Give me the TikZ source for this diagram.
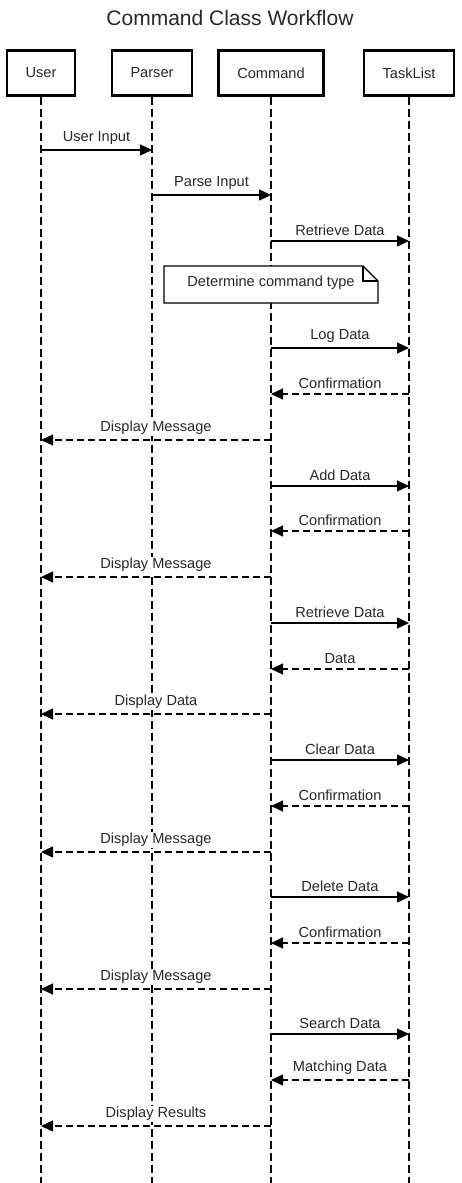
\documentclass[tikz,border=0pt]{standalone}
\usepackage{fontspec}
\setmainfont{Liberation Sans}
\usetikzlibrary{arrows.meta}
\definecolor{inkgray}{RGB}{40,40,40}
\newcommand\lbl{\fontsize{14.6}{17}\selectfont}

\begin{document}
\begin{tikzpicture}[x=1pt,y=1pt,>={Triangle[length=12pt,width=11pt]},
                    every node/.style={text=inkgray,font=\lbl},
                    semithick]

  \tikzset{head/.style={draw,line width=2.4pt,minimum height=45pt,inner sep=0pt},
           life/.style={line width=1.3pt,dash pattern=on 8pt off 4pt},
           call/.style={->,line width=1.2pt},
           reply/.style={->,line width=1.2pt,dash pattern=on 7pt off 4pt},
           msg/.style={midway,above,fill=white,inner sep=1pt,yshift=3.5pt}}

  \useasboundingbox (0,0) rectangle (461,-1183);

  \node[font=\fontsize{21}{24}\selectfont] (title) at (230,-18) {Command Class Workflow};

  \node[head,minimum width=68pt]  (user)     at (41,-73)  {User};
  \node[head,minimum width=80pt]  (parser)   at (152,-73) {Parser};
  \node[head,minimum width=105pt] (command)  at (271,-73) {Command};
  \node[head,minimum width=90pt]  (tasklist) at (409,-73) {TaskList};

  \coordinate (userEnd)     at (user     |- 0,-1183);
  \coordinate (parserEnd)   at (parser   |- 0,-1183);
  \coordinate (commandEnd)  at (command  |- 0,-1183);
  \coordinate (tasklistEnd) at (tasklist |- 0,-1183);

  \draw[life] (user.south)     -- (userEnd);
  \draw[life] (parser.south)   -- (parserEnd);
  \draw[life] (command.south)  -- (commandEnd);
  \draw[life] (tasklist.south) -- (tasklistEnd);

  % note
  \draw[line width=1.2pt,fill=white] (164,-266) -- (363,-266) -- (378,-281) -- (378,-303) -- (164,-303) -- cycle;
  \draw[line width=1.2pt] (363,-266) -- (363,-281) -- (378,-281);
  \node (note) at (271,-283) {Determine command type};

  \path
  (user    |- 0,-150)  edge[call]  node[msg] {User Input}      (parser   |- 0,-150)
  (parser  |- 0,-195)  edge[call]  node[msg] {Parse Input}     (command  |- 0,-195)
  (command |- 0,-241)  edge[call]  node[msg] {Retrieve Data}   (tasklist |- 0,-241)

  (command  |- 0,-348) edge[call]  node[msg] {Log Data}        (tasklist |- 0,-348)
  (tasklist |- 0,-394) edge[reply] node[msg] {Confirmation}    (command  |- 0,-394)
  (command  |- 0,-440) edge[reply] node[msg] {Display Message} (user     |- 0,-440)

  (command  |- 0,-486) edge[call]  node[msg] {Add Data}        (tasklist |- 0,-486)
  (tasklist |- 0,-531) edge[reply] node[msg] {Confirmation}    (command  |- 0,-531)
  (command  |- 0,-577) edge[reply] node[msg] {Display Message} (user     |- 0,-577)

  (command  |- 0,-623) edge[call]  node[msg] {Retrieve Data}   (tasklist |- 0,-623)
  (tasklist |- 0,-669) edge[reply] node[msg] {Data}            (command  |- 0,-669)
  (command  |- 0,-714) edge[reply] node[msg] {Display Data}    (user     |- 0,-714)

  (command  |- 0,-760) edge[call]  node[msg] {Clear Data}      (tasklist |- 0,-760)
  (tasklist |- 0,-806) edge[reply] node[msg] {Confirmation}    (command  |- 0,-806)
  (command  |- 0,-852) edge[reply] node[msg] {Display Message} (user     |- 0,-852)

  (command  |- 0,-897) edge[call]  node[msg] {Delete Data}     (tasklist |- 0,-897)
  (tasklist |- 0,-943) edge[reply] node[msg] {Confirmation}    (command  |- 0,-943)
  (command  |- 0,-989) edge[reply] node[msg] {Display Message} (user     |- 0,-989)

  (command  |- 0,-1034) edge[call]  node[msg] {Search Data}     (tasklist |- 0,-1034)
  (tasklist |- 0,-1080) edge[reply] node[msg] {Matching Data}   (command  |- 0,-1080)
  (command  |- 0,-1126) edge[reply] node[msg] {Display Results} (user     |- 0,-1126)
  ;
\end{tikzpicture}
\end{document}
